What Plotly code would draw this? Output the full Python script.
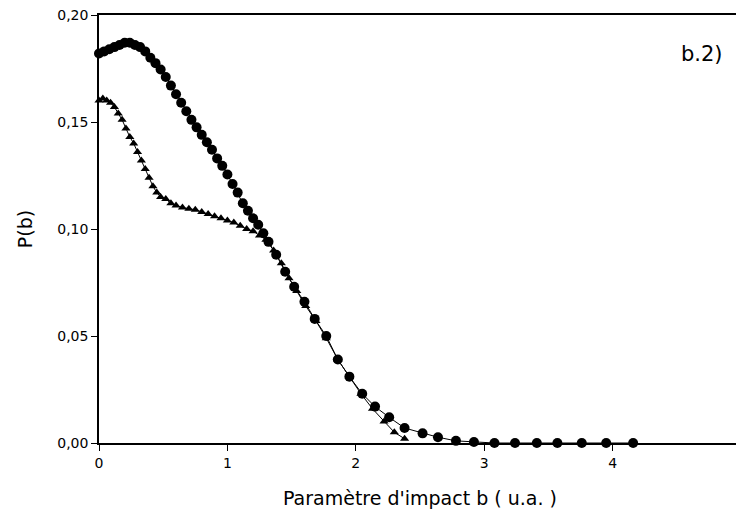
import plotly.graph_objects as go

# Circles: upper curve
b_circ = [0.00, 0.04, 0.08, 0.12, 0.16, 0.20, 0.24, 0.28, 0.32, 0.36, 0.40, 0.44,
          0.48, 0.52, 0.56, 0.60, 0.64, 0.68, 0.72, 0.76, 0.80, 0.84, 0.88, 0.92,
          0.96, 1.00, 1.04, 1.08, 1.12, 1.16, 1.20, 1.24, 1.28, 1.32, 1.38, 1.45,
          1.52, 1.60, 1.68, 1.77, 1.86, 1.95, 2.05, 2.15, 2.26, 2.38, 2.52, 2.64,
          2.78, 2.92, 3.08, 3.24, 3.41, 3.57, 3.76, 3.95, 4.16]
p_circ = [0.182, 0.183, 0.184, 0.185, 0.186, 0.187, 0.187, 0.186, 0.185, 0.183, 0.180, 0.1775,
          0.1745, 0.171, 0.167, 0.163, 0.159, 0.155, 0.151, 0.1475, 0.144, 0.1405, 0.137, 0.133,
          0.1295, 0.1255, 0.121, 0.117, 0.112, 0.1085, 0.105, 0.102, 0.098, 0.094, 0.088, 0.080,
          0.073, 0.066, 0.058, 0.050, 0.039, 0.031, 0.023, 0.017, 0.012, 0.007, 0.0045, 0.0027,
          0.001, 0.0005, 0.0, 0.0, 0.0, 0.0, 0.0, 0.0, 0.0]

# Triangles: lower curve
b_tri = [0.00, 0.03, 0.06, 0.09, 0.12, 0.15, 0.18, 0.21, 0.24, 0.27, 0.30, 0.33, 0.36,
         0.39, 0.42, 0.45, 0.48, 0.52, 0.56, 0.60, 0.65, 0.70, 0.75, 0.80, 0.85, 0.90,
         0.95, 1.00, 1.05, 1.10, 1.15, 1.20, 1.25, 1.30, 1.36, 1.42, 1.48, 1.54, 1.61,
         1.69, 1.77, 1.86, 1.95, 2.04, 2.13, 2.22, 2.30, 2.38]
p_tri = [0.160, 0.161, 0.160, 0.159, 0.157, 0.154, 0.151, 0.147, 0.143, 0.140, 0.136, 0.132, 0.128,
         0.124, 0.120, 0.117, 0.115, 0.114, 0.112, 0.111, 0.110, 0.1095, 0.109, 0.108, 0.107, 0.106,
         0.105, 0.104, 0.103, 0.1015, 0.100, 0.099, 0.097, 0.095, 0.090, 0.084, 0.077, 0.071, 0.064,
         0.057, 0.049, 0.039, 0.031, 0.023, 0.016, 0.010, 0.005, 0.002]

x_ticks = [0, 1, 2, 3, 4, 5]
y_ticks = [0.00, 0.05, 0.10, 0.15, 0.20]

font = "DejaVu Sans"

fig = go.Figure()
fig.add_trace(go.Scatter(x=b_circ, y=p_circ, mode="lines+markers", cliponaxis=False,
                         line=dict(color="black", width=1),
                         marker=dict(symbol="circle", size=10, color="black")))
fig.add_trace(go.Scatter(x=b_tri, y=p_tri, mode="lines+markers", cliponaxis=False,
                         line=dict(color="black", width=1),
                         marker=dict(symbol="triangle-up", size=8, color="black")))

fig.add_annotation(text="b.2)", x=0.939, y=0.908, xref="paper", yref="paper",
                   xanchor="center", yanchor="middle",
                   showarrow=False, font=dict(family=font, size=21, color="black"))

# page body adds an 8px margin, so the figure is 8px smaller than the window
fig.update_layout(
    width=736, height=508,
    margin=dict(l=91, r=3, t=7, b=73),
    plot_bgcolor="white", paper_bgcolor="white",
    showlegend=False,
    separators=", ",
    font=dict(family=font, size=14, color="black"),
)
fig.update_xaxes(range=[0, 5], tickvals=x_ticks, showgrid=False, zeroline=False,
                 automargin=False, ticklabeloverflow="allow",
                 showline=True, linecolor="black", linewidth=1.5, mirror=True,
                 ticks="outside", ticklen=6, tickcolor="black",
                 title=dict(text="Paramètre d'impact b ( u.a. )", font=dict(size=19), standoff=22))
fig.update_yaxes(range=[0, 0.2], tickvals=y_ticks, tickformat=".2f", showgrid=False, zeroline=False,
                 automargin=False, ticklabeloverflow="allow",
                 showline=True, linecolor="black", linewidth=1.5, mirror=True,
                 ticks="outside", ticklen=6, tickcolor="black",
                 title=dict(text="P(b)", font=dict(size=19), standoff=20))

fig.write_html("out.html")
